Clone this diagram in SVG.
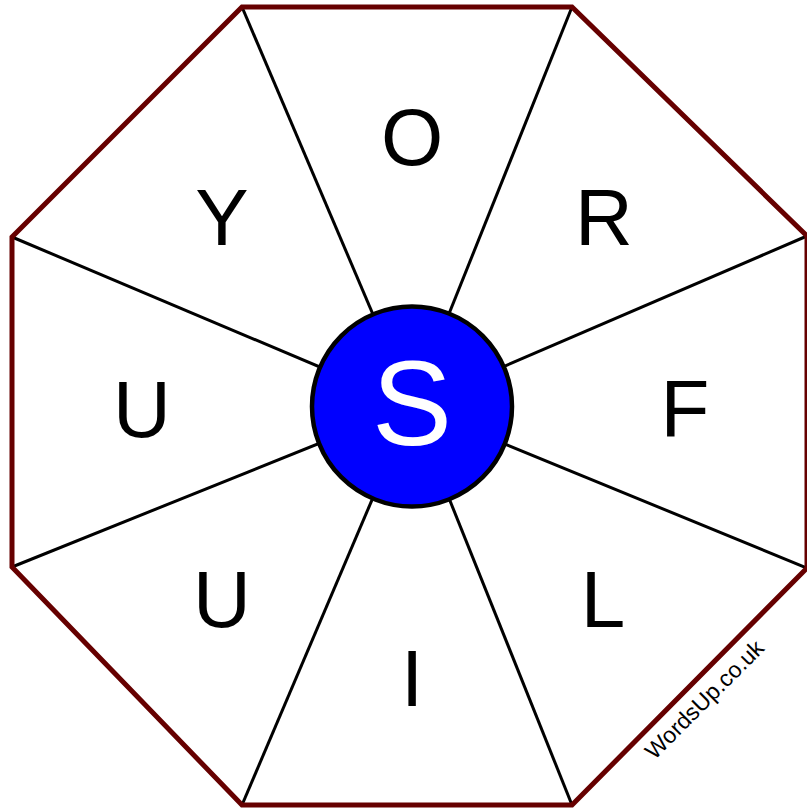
<svg xmlns="http://www.w3.org/2000/svg" width="807" height="810" viewBox="0 0 807 810">
<style>
.spoke{stroke:#000;stroke-width:3;fill:none}
.let{font-family:"Liberation Sans",Arial,sans-serif;font-size:80px;fill:#000;text-anchor:middle}
</style>
<rect width="807" height="810" fill="#fff"/>
<g id="connectors">
<line class="spoke" x1="412" y1="406" x2="242" y2="7"/>
<line class="spoke" x1="412" y1="406" x2="572" y2="7"/>
<line class="spoke" x1="412" y1="406" x2="807" y2="236"/>
<line class="spoke" x1="412" y1="406" x2="807" y2="568"/>
<line class="spoke" x1="412" y1="406" x2="572" y2="805"/>
<line class="spoke" x1="412" y1="406" x2="242" y2="805"/>
<line class="spoke" x1="412" y1="406" x2="12" y2="567"/>
<line class="spoke" x1="412" y1="406" x2="12" y2="237"/>
</g>
<g id="octagon">
<polygon points="242,7 572,7 807,236 807,568 572,805 242,805 12,567 12,237" fill="none" stroke="#660000" stroke-width="5" stroke-linejoin="miter"/>
</g>
<g id="center">
<circle cx="412" cy="406.5" r="100" fill="#0000ff" stroke="#000" stroke-width="4.5"/>
<text x="412" y="445" style="font-family:'Liberation Sans',Arial,sans-serif;font-size:120px;fill:#fff;text-anchor:middle">S</text>
</g>
<g id="n-O"><text class="let" x="412" y="165">O</text></g>
<g id="n-R"><text class="let" x="604" y="245">R</text></g>
<g id="n-F"><text class="let" x="685" y="436">F</text></g>
<g id="n-L"><text class="let" x="603" y="627">L</text></g>
<g id="n-I"><text class="let" x="412" y="706">I</text></g>
<g id="n-U2"><text class="let" x="222" y="627">U</text></g>
<g id="n-U1"><text class="let" x="142" y="437">U</text></g>
<g id="n-Y"><text class="let" x="222" y="245">Y</text></g>
<g id="watermark">
<text x="0" y="0" transform="translate(710,705) rotate(-45)" style="font-family:'Liberation Sans',Arial,sans-serif;font-size:23px;fill:#000;text-anchor:middle">WordsUp.co.uk</text>
</g>
</svg>
